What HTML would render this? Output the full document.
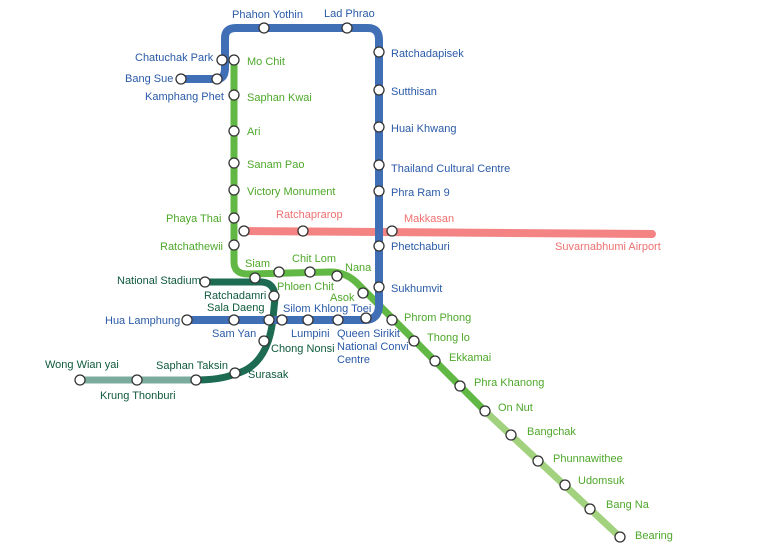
<!DOCTYPE html>
<html><head><meta charset="utf-8"><style>
html,body{margin:0;padding:0;background:#fff;}
svg{display:block;}
text{font-family:"Liberation Sans",sans-serif;font-size:11px;}
.b{fill:#2a5aa8}.g{fill:#4ea82a}.r{fill:#ee7070}.d{fill:#0f5a3c}
</style></head><body>
<svg width="767" height="558" viewBox="0 0 767 558" xmlns="http://www.w3.org/2000/svg">
<rect width="767" height="558" fill="#fff"/>
<g fill="none" stroke-linecap="round" stroke-linejoin="round">
<!-- red -->
<path d="M244,231 L652,234" stroke="#f48484" stroke-width="8"/>
<!-- green -->
<path d="M234,60 L234,262 Q234,274 248,274 L330,272 Q345,272 356,282 L485,411" stroke="#62b844" stroke-width="7"/>
<path d="M485,411 L620,537" stroke="#a3d27e" stroke-width="7"/>
<!-- teal -->
<path d="M80,380 L196,380" stroke="#7aab9c" stroke-width="7"/>
<!-- dark green -->
<path d="M205,282 L262,282 Q275,283 275,298 L273,318 Q268,366 235,374 Q220,380 196,380" stroke="#1d6b52" stroke-width="7"/>
<!-- blue -->
<path d="M181,79 L217,79 Q225,79 225,68 L225,38 Q225,28 236,28 L368,28 Q379,28 379,40 L379,305 Q379,320 364,320 L187,320" stroke="#416fb6" stroke-width="8"/>
</g>
<g fill="#fff" stroke="#333" stroke-width="1.3">
<circle cx="181" cy="79" r="5"/><circle cx="217" cy="79" r="5"/><circle cx="222" cy="60" r="5"/><circle cx="234" cy="60" r="5"/>
<circle cx="264" cy="28" r="5"/><circle cx="347" cy="28" r="5"/>
<circle cx="379" cy="52" r="5"/><circle cx="379" cy="90" r="5"/><circle cx="379" cy="127" r="5"/><circle cx="379" cy="165" r="5"/><circle cx="379" cy="191" r="5"/><circle cx="379" cy="246" r="5"/><circle cx="379" cy="287" r="5"/>
<circle cx="366" cy="318" r="5"/><circle cx="338" cy="320" r="5"/><circle cx="308" cy="320" r="5"/><circle cx="282" cy="320" r="5"/><circle cx="269" cy="320" r="5"/><circle cx="234" cy="320" r="5"/><circle cx="187" cy="320" r="5"/>
<circle cx="234" cy="95" r="5"/><circle cx="234" cy="131" r="5"/><circle cx="234" cy="163" r="5"/><circle cx="234" cy="190" r="5"/><circle cx="234" cy="218" r="5"/><circle cx="234" cy="245" r="5"/>
<circle cx="244" cy="231" r="5"/><circle cx="303" cy="231" r="5"/><circle cx="392" cy="231" r="5"/>
<circle cx="255" cy="278" r="5"/><circle cx="279" cy="272" r="5"/><circle cx="310" cy="272" r="5"/><circle cx="337" cy="276" r="5"/><circle cx="363" cy="293" r="5"/>
<circle cx="392" cy="320" r="5"/><circle cx="414" cy="341" r="5"/><circle cx="435" cy="361" r="5"/><circle cx="460" cy="386" r="5"/><circle cx="485" cy="411" r="5"/><circle cx="511" cy="435" r="5"/><circle cx="538" cy="461" r="5"/><circle cx="565" cy="485" r="5"/><circle cx="590" cy="509" r="5"/><circle cx="620" cy="537" r="5"/>
<circle cx="205" cy="282" r="5"/><circle cx="274" cy="296" r="5"/><circle cx="264" cy="341" r="5"/><circle cx="235" cy="373" r="5"/><circle cx="196" cy="380" r="5"/><circle cx="137" cy="380" r="5"/><circle cx="80" cy="380" r="5"/>
</g>
<g class="b">
<text x="232" y="18">Phahon Yothin</text><text x="324" y="17">Lad Phrao</text>
<text x="135" y="61">Chatuchak Park</text><text x="125" y="82">Bang Sue</text><text x="145" y="100">Kamphang Phet</text>
<text x="391" y="57">Ratchadapisek</text><text x="391" y="95">Sutthisan</text><text x="391" y="132">Huai Khwang</text><text x="391" y="172">Thailand Cultural Centre</text><text x="391" y="196">Phra Ram 9</text><text x="391" y="250">Phetchaburi</text><text x="391" y="292">Sukhumvit</text>
<text x="105" y="324">Hua Lamphung</text><text x="212" y="337">Sam Yan</text><text x="283" y="312">Silom</text><text x="314" y="312">Khlong Toei</text><text x="291" y="337">Lumpini</text>
<text x="337" y="337">Queen Sirikit</text><text x="337" y="350">National Convi</text><text x="337" y="363">Centre</text>
</g>
<g class="g">
<text x="247" y="65">Mo Chit</text><text x="247" y="101">Saphan Kwai</text><text x="247" y="135">Ari</text><text x="247" y="168">Sanam Pao</text><text x="247" y="195">Victory Monument</text>
<text x="166" y="222">Phaya Thai</text><text x="160" y="250">Ratchathewii</text>
<text x="245" y="267">Siam</text><text x="292" y="262">Chit Lom</text><text x="345" y="271">Nana</text><text x="277" y="290">Phloen Chit</text><text x="330" y="301">Asok</text>
<text x="404" y="321">Phrom Phong</text><text x="427" y="341">Thong lo</text><text x="449" y="361">Ekkamai</text><text x="474" y="386">Phra Khanong</text><text x="498" y="411">On Nut</text><text x="527" y="435">Bangchak</text><text x="553" y="462">Phunnawithee</text><text x="578" y="484">Udomsuk</text><text x="606" y="508">Bang Na</text><text x="635" y="539">Bearing</text>
</g>
<g class="r">
<text x="276" y="218">Ratchaprarop</text><text x="404" y="222">Makkasan</text><text x="555" y="250">Suvarnabhumi Airport</text>
</g>
<g class="d">
<text x="117" y="284">National Stadium</text><text x="204" y="299">Ratchadamri</text><text x="207" y="311">Sala Daeng</text><text x="271" y="352">Chong Nonsi</text><text x="248" y="378">Surasak</text><text x="156" y="369">Saphan Taksin</text><text x="45" y="368">Wong Wian yai</text><text x="100" y="399">Krung Thonburi</text>
</g>
</svg>
</body></html>
